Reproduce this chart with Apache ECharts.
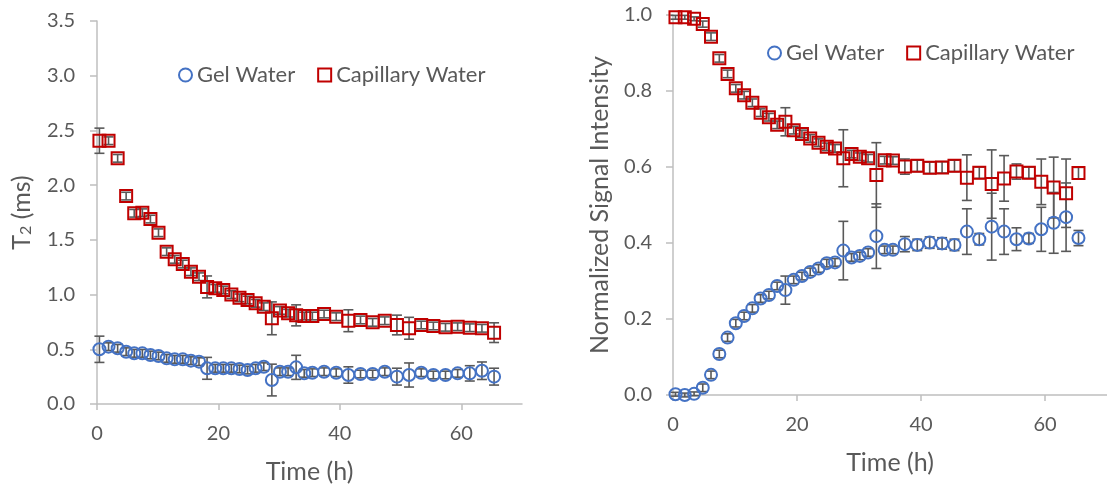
<!DOCTYPE html>
<html>
<head>
<meta charset="utf-8">
<script src="https://cdn.jsdelivr.net/npm/echarts@6/dist/echarts.min.js"></script>
<style>
  html, body { margin: 0; padding: 0; background: #ffffff; }
  #chart { width: 1107px; height: 493px; }
</style>
</head>
<body>
<div id="chart"></div>
<script>
// Sampling times (h), shared by both panels
const timeH = [0.4, 1.9, 3.4, 4.8, 6.13, 7.47, 8.8, 10.13, 11.47, 12.8, 14.13, 15.47, 16.8, 18.13,
  19.47, 20.8, 22.13, 23.47, 24.8, 26.13, 27.47, 28.8, 30.13, 31.47, 32.8, 34.13, 35.47,
  37.4, 39.4, 41.4, 43.4, 45.4, 47.4, 49.4, 51.4, 53.4, 55.4, 57.4, 59.4, 61.4, 63.4, 65.4];

// Left panel: T2 relaxation time (ms)
const gelT2 = [0.5, 0.524, 0.509, 0.478, 0.463, 0.463, 0.448, 0.439, 0.417, 0.408,
  0.408, 0.396, 0.387, 0.326, 0.326, 0.326, 0.326, 0.32, 0.31, 0.326,
  0.341, 0.219, 0.295, 0.295, 0.335, 0.28, 0.286,
  0.295, 0.286, 0.265, 0.274, 0.274, 0.295, 0.25, 0.265, 0.286, 0.265, 0.265, 0.28, 0.28, 0.304, 0.25];
const gelT2Err = [0.12, 0.035, 0.035, 0.035, 0.035, 0.035, 0.035, 0.035, 0.035, 0.035,
  0.035, 0.035, 0.035, 0.1, 0.035, 0.035, 0.035, 0.035, 0.035, 0.035,
  0.035, 0.145, 0.035, 0.035, 0.11, 0.035, 0.035,
  0.035, 0.035, 0.075, 0.035, 0.035, 0.035, 0.077, 0.11, 0.035, 0.035, 0.035, 0.035, 0.07, 0.08, 0.077];
const capT2 = [2.406, 2.406, 2.245, 1.90, 1.743, 1.748, 1.69, 1.565, 1.392, 1.322,
  1.279, 1.209, 1.163, 1.07, 1.057, 1.042, 1.00, 0.97, 0.95, 0.92,
  0.889, 0.783, 0.855, 0.83, 0.81, 0.804, 0.804,
  0.822, 0.798, 0.761, 0.768, 0.746, 0.761, 0.722, 0.692, 0.722, 0.713, 0.701, 0.706, 0.697, 0.692, 0.652];
const capT2Err = [0.115, 0.035, 0.035, 0.035, 0.035, 0.035, 0.035, 0.035, 0.035, 0.035,
  0.035, 0.035, 0.035, 0.1, 0.035, 0.035, 0.035, 0.035, 0.035, 0.035,
  0.035, 0.15, 0.035, 0.035, 0.096, 0.035, 0.035,
  0.035, 0.035, 0.1, 0.035, 0.035, 0.035, 0.09, 0.1, 0.035, 0.035, 0.035, 0.035, 0.035, 0.035, 0.09];

// Right panel: normalized signal intensity
const gelSig = [0.002, 0.0, 0.003, 0.019, 0.053, 0.108, 0.151, 0.189, 0.208, 0.228,
  0.254, 0.263, 0.287, 0.276, 0.303, 0.313, 0.324, 0.333, 0.347, 0.349,
  0.380, 0.362, 0.366, 0.375, 0.418, 0.382, 0.382,
  0.397, 0.395, 0.401, 0.399, 0.395, 0.430, 0.410, 0.443, 0.430, 0.410, 0.412, 0.436, 0.453, 0.468, 0.413];
const gelSigErr = [0.005, 0.005, 0.005, 0.01, 0.01, 0.01, 0.01, 0.01, 0.01, 0.01,
  0.01, 0.01, 0.01, 0.037, 0.01, 0.01, 0.01, 0.01, 0.01, 0.01,
  0.077, 0.01, 0.01, 0.01, 0.085, 0.01, 0.01,
  0.02, 0.015, 0.015, 0.015, 0.015, 0.06, 0.015, 0.088, 0.06, 0.03, 0.013, 0.058, 0.08, 0.09, 0.02];
const capSig = [0.994, 0.994, 0.99, 0.976, 0.943, 0.886, 0.845, 0.807, 0.789, 0.769,
  0.743, 0.731, 0.711, 0.719, 0.697, 0.687, 0.675, 0.664, 0.653, 0.649,
  0.623, 0.634, 0.627, 0.623, 0.579, 0.618, 0.617,
  0.601, 0.603, 0.598, 0.599, 0.603, 0.572, 0.585, 0.555, 0.570, 0.588, 0.585, 0.561, 0.546, 0.531, 0.584];
const capSigErr = [0.005, 0.005, 0.005, 0.008, 0.01, 0.01, 0.01, 0.01, 0.01, 0.01,
  0.01, 0.01, 0.01, 0.037, 0.01, 0.01, 0.01, 0.01, 0.01, 0.01,
  0.075, 0.01, 0.01, 0.01, 0.085, 0.01, 0.01,
  0.02, 0.015, 0.015, 0.015, 0.015, 0.06, 0.015, 0.09, 0.06, 0.02, 0.015, 0.06, 0.08, 0.09, 0.015];

const xTicks = [0, 20, 40, 60];
const seriesNames = ['Gel Water', 'Capillary Water'];

const FONT = 'Lato';
const TEXT = '#595959';
const AXIS = '#BFBFBF';
const BLUE = '#4472C4';
const RED = '#C00000';
const ERR = '#595959';
const TICK_SIZE = 20;
const TITLE_SIZE = 25;
const LEGEND_SIZE = 22;

function pts(y, e) {
  return timeH.map((t, i) => e ? [t, y[i], e[i]] : [t, y[i]]);
}

// Vertical error bar with caps, placed through the axis scales
function renderErr(params, api) {
  const t = api.value(0), v = api.value(1), e = api.value(2);
  const hi = api.coord([t, v + e]);
  const lo = api.coord([t, v - e]);
  const cap = 5;
  const st = { stroke: ERR, lineWidth: 1.6 };
  return {
    type: 'group',
    children: [
      { type: 'line', shape: { x1: hi[0], y1: hi[1], x2: lo[0], y2: lo[1] }, style: st },
      { type: 'line', shape: { x1: hi[0] - cap, y1: hi[1], x2: hi[0] + cap, y2: hi[1] }, style: st },
      { type: 'line', shape: { x1: lo[0] - cap, y1: lo[1], x2: lo[0] + cap, y2: lo[1] }, style: st }
    ]
  };
}

function xAxisFor(idx) {
  return {
    type: 'value', gridIndex: idx, min: 0, max: 70,
    name: 'Time (h)', nameLocation: 'middle', nameGap: 55,
    nameTextStyle: { color: TEXT, fontFamily: FONT, fontSize: TITLE_SIZE },
    axisLine: { show: true, lineStyle: { color: AXIS, width: 1.5 } },
    axisTick: { show: true, length: 6, customValues: xTicks, lineStyle: { color: AXIS, width: 1.5 } },
    axisLabel: { customValues: xTicks, color: TEXT, fontFamily: FONT, fontSize: TICK_SIZE, margin: 20 },
    splitLine: { show: false }
  };
}

function yAxisFor(idx, max, interval, name, gap, margin) {
  return {
    type: 'value', gridIndex: idx, min: 0, max: max, interval: interval,
    name: name, nameLocation: 'middle', nameGap: gap,
    nameTextStyle: {
      color: TEXT, fontFamily: FONT, fontSize: TITLE_SIZE,
      rich: {
        n: { color: TEXT, fontFamily: FONT, fontSize: TITLE_SIZE, lineHeight: 30, verticalAlign: 'bottom' },
        s: { color: TEXT, fontFamily: FONT, fontSize: 16, lineHeight: 20, verticalAlign: 'bottom' }
      }
    },
    axisLine: { show: true, lineStyle: { color: AXIS, width: 1.5 } },
    axisTick: { show: true, length: 7, lineStyle: { color: AXIS, width: 1.5 } },
    axisLabel: { color: TEXT, fontFamily: FONT, fontSize: TICK_SIZE, margin: margin,
      formatter: v => v.toFixed(1) },
    splitLine: { show: false }
  };
}

function scatter(name, idx, data, color, symbol) {
  return {
    type: 'scatter', name: name, xAxisIndex: idx, yAxisIndex: idx, data: data,
    symbol: symbol, symbolSize: 12, z: 3,
    itemStyle: { color: 'rgba(255,255,255,0)', borderColor: color, borderWidth: 2, opacity: 1 },
    emphasis: { disabled: true }
  };
}

function errSeries(idx, data) {
  return {
    type: 'custom', xAxisIndex: idx, yAxisIndex: idx, data: data, z: 2,
    renderItem: renderErr, encode: { x: 0, y: 1 }, silent: true
  };
}

function legendAt(left, top) {
  return {
    left: left, top: top, orient: 'horizontal', padding: 0,
    itemWidth: 13, itemHeight: 13, itemGap: 22,
    textStyle: { color: TEXT, fontFamily: FONT, fontSize: LEGEND_SIZE },
    selectedMode: false,
    data: [
      { name: seriesNames[0], icon: 'circle',
        itemStyle: { color: 'rgba(255,255,255,0)', borderColor: BLUE, borderWidth: 2 } },
      { name: seriesNames[1], icon: 'rect',
        itemStyle: { color: 'rgba(255,255,255,0)', borderColor: RED, borderWidth: 2 } }
    ]
  };
}

const chart = echarts.init(document.getElementById('chart'), null, { renderer: 'canvas' });
chart.setOption({
  animation: false,
  backgroundColor: '#ffffff',
  textStyle: { fontFamily: FONT },
  grid: [
    { left: 97, top: 21, width: 425, height: 383 },
    { left: 673, top: 15, width: 441, height: 380 }
  ],
  legend: [legendAt(178, 64), legendAt(767, 42)],
  xAxis: [xAxisFor(0), xAxisFor(1)],
  yAxis: [
    yAxisFor(0, 3.5, 0.5, '{n|T}{s|2}{n| (ms)}', 63, 22),
    yAxisFor(1, 1.0, 0.2, 'Normalized Signal Intensity', 61, 21)
  ],
  series: [
    errSeries(0, pts(gelT2, gelT2Err)),
    errSeries(0, pts(capT2, capT2Err)),
    scatter(seriesNames[0], 0, pts(gelT2), BLUE, 'circle'),
    scatter(seriesNames[1], 0, pts(capT2), RED, 'rect'),
    errSeries(1, pts(gelSig, gelSigErr)),
    errSeries(1, pts(capSig, capSigErr)),
    scatter(seriesNames[0], 1, pts(gelSig), BLUE, 'circle'),
    scatter(seriesNames[1], 1, pts(capSig), RED, 'rect')
  ]
});
</script>
</body>
</html>
